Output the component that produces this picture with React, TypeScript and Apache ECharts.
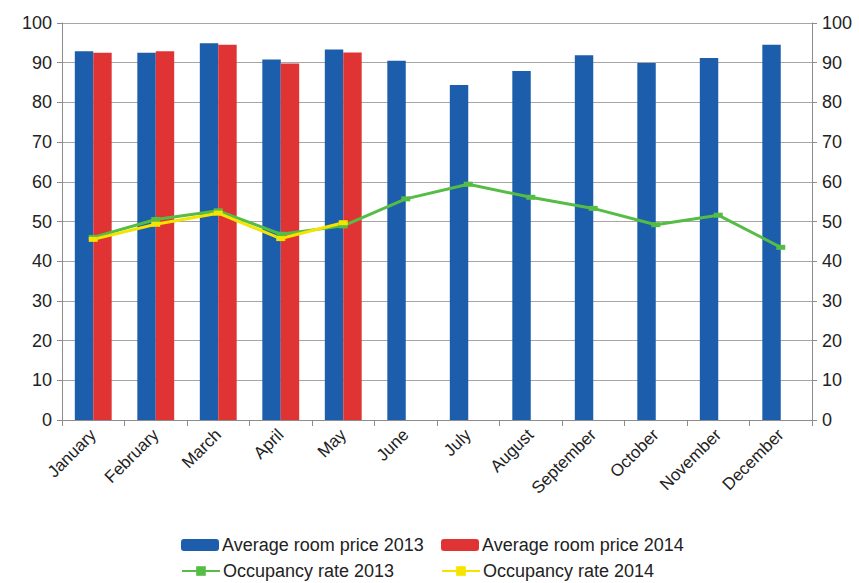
import React, { useEffect, useRef } from "react";
import * as echarts from "echarts";

const months = ["January","February","March","April","May","June","July","August","September","October","November","December"];
const price2013 = [92.9, 92.5, 94.9, 90.8, 93.3, 90.5, 84.4, 87.9, 91.9, 89.9, 91.2, 94.5];
const price2014 = [92.5, 92.9, 94.5, 89.8, 92.6];
const occ2013 = [46.0, 50.5, 52.7, 46.8, 48.9, 55.7, 59.4, 56.1, 53.3, 49.2, 51.6, 43.5];
const occ2014 = [45.5, 49.3, 52.1, 45.7, 49.7];
const yTicks = { min: 0, max: 100, interval: 10 };

const FONT = "Liberation Sans, Arial, sans-serif";
const BLUE = "#1c5eab";
const RED = "#e03434";
const GREEN = "#55bd45";
const YELLOW = "#f5e400";

const legendAt = (name: string, left: number, top: number) => ({
  left,
  top,
  padding: 0,
  itemWidth: 38,
  itemHeight: 12,
  itemGap: 0,
  textStyle: { fontSize: 18, lineHeight: 20, fontFamily: FONT, color: "#222", padding: [0, 0, 0, -2] },
  data: [name],
});

export default function App() {
  const ref = useRef<HTMLDivElement>(null);
  useEffect(() => {
    const chart = echarts.init(ref.current!, null, { renderer: "svg" });
    const yAxisBase = (pos: "left" | "right") => ({
      type: "value",
      position: pos,
      min: yTicks.min,
      max: yTicks.max,
      interval: yTicks.interval,
      axisLine: { show: true, lineStyle: { color: "#8c8c8c", width: 1 } },
      axisTick: { show: true, length: 5, lineStyle: { color: "#8c8c8c" } },
      axisLabel: { color: "#222", fontSize: 18, fontFamily: FONT, margin: 10 },
      splitLine: { show: pos === "left", lineStyle: { color: "#a6a6a6", width: 1 } },
    });
    chart.setOption({
      animation: false,
      backgroundColor: "#fff",
      grid: { left: 62, right: 47, top: 23, bottom: 163, containLabel: false },
      xAxis: {
        type: "category",
        data: months,
        axisLine: { show: true, lineStyle: { color: "#8c8c8c" } },
        axisTick: { show: true, length: 6, alignWithLabel: false, lineStyle: { color: "#8c8c8c" } },
        axisLabel: { rotate: 45, color: "#222", fontSize: 17, fontFamily: FONT, margin: 12, interval: 0 },
      },
      yAxis: [yAxisBase("left"), yAxisBase("right")],
      legend: [
        legendAt("Average room price 2013", 181, 535),
        legendAt("Average room price 2014", 441, 535),
        legendAt("Occupancy rate 2013", 181, 561),
        legendAt("Occupancy rate 2014", 441, 561),
      ],
      series: [
        {
          name: "Average room price 2013",
          type: "bar",
          data: price2013,
          itemStyle: { color: BLUE },
          barGap: "0%",
          barCategoryGap: "41%",
        },
        {
          name: "Average room price 2014",
          type: "bar",
          data: price2014,
          itemStyle: { color: RED },
          barGap: "0%",
          barCategoryGap: "41%",
        },
        {
          name: "Occupancy rate 2013",
          type: "line",
          yAxisIndex: 1,
          data: occ2013,
          lineStyle: { color: GREEN, width: 3 },
          itemStyle: { color: GREEN },
          symbol: "rect",
          symbolSize: [9, 5],
        },
        {
          name: "Occupancy rate 2014",
          type: "line",
          yAxisIndex: 1,
          data: occ2014,
          lineStyle: { color: YELLOW, width: 3 },
          itemStyle: { color: YELLOW },
          symbol: "rect",
          symbolSize: [9, 5],
        },
      ],
    });
    return () => chart.dispose();
  }, []);
  return <div ref={ref} style={{ width: 859, height: 583, position: "absolute", left: 0, top: 0 }} />;
}
